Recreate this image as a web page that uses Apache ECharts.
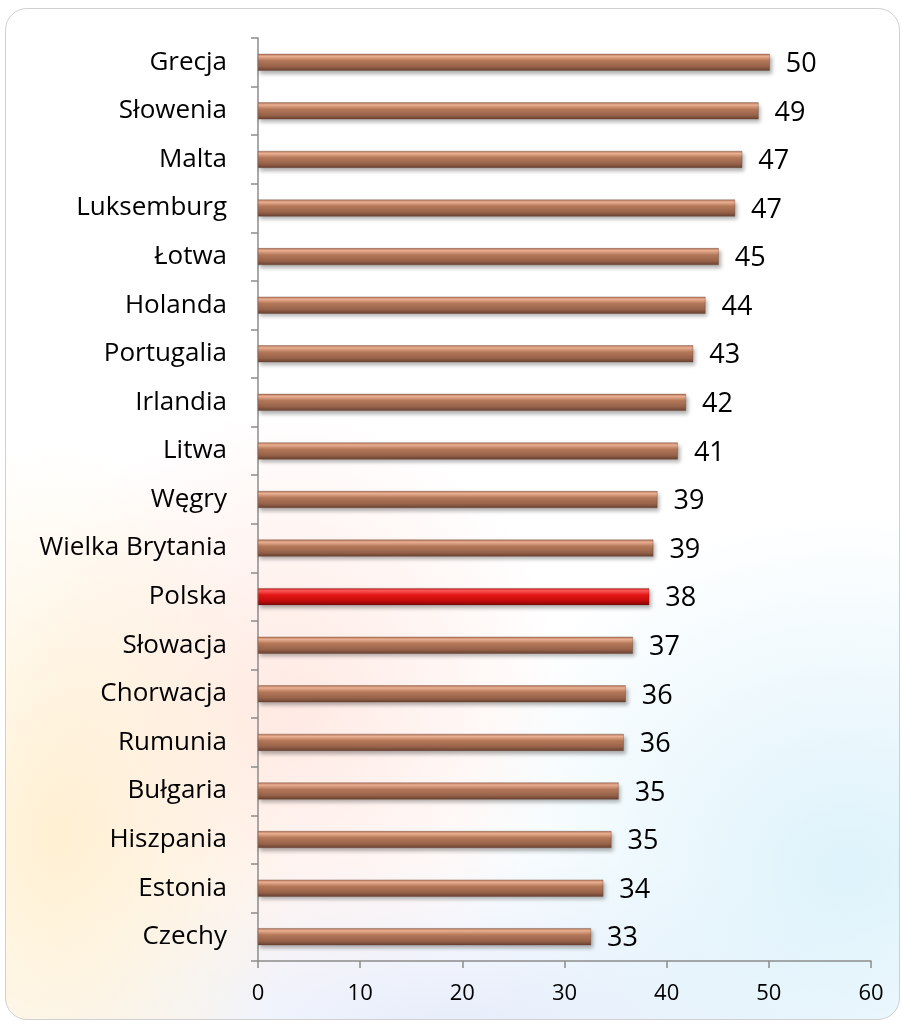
<!DOCTYPE html>
<html>
<head>
<meta charset="utf-8">
<script src="https://cdn.jsdelivr.net/npm/echarts@6/dist/echarts.min.js"></script>
<style>
  html, body { margin: 0; padding: 0; background: #fff; }
  #wrap {
    position: absolute; left: 5px; top: 8px; width: 893px; height: 1010px;
    border: 1.5px solid #d0d0d0; border-radius: 22px; overflow: hidden;
    background:
      radial-gradient(ellipse 240px 400px at 50px 830px, rgba(255,238,205,0.9), rgba(255,238,205,0) 100%),
      radial-gradient(ellipse 280px 300px at 280px 700px, rgba(255,218,208,0.6), rgba(255,218,208,0) 100%),
      radial-gradient(ellipse 400px 360px at 840px 860px, rgba(215,240,250,0.85), rgba(215,240,250,0) 100%),
      radial-gradient(ellipse 500px 180px at 450px 1020px, rgba(228,234,250,0.9), rgba(228,234,250,0) 100%),
      #ffffff;
  }
  #chart { position: absolute; left: 0; top: 0; width: 903px; height: 1024px; }
</style>
</head>
<body>
<div id="wrap"></div>
<div id="chart"></div>
<script>
// kraje od góry do dołu
var countries = ['Grecja', 'Słowenia', 'Malta', 'Luksemburg', 'Łotwa', 'Holanda', 'Portugalia',
  'Irlandia', 'Litwa', 'Węgry', 'Wielka Brytania', 'Polska', 'Słowacja', 'Chorwacja',
  'Rumunia', 'Bułgaria', 'Hiszpania', 'Estonia', 'Czechy']
var values = [50.1, 49.0, 47.4, 46.7, 45.1, 43.8, 42.6, 41.9, 41.1, 39.1, 38.7, 38.3, 36.7,
  36.0, 35.8, 35.3, 34.6, 33.8, 32.6]
var highlight = 'Polska'
var xTicks = [0, 10, 20, 30, 40, 50, 60]

var FONT = '"Open Sans", "Noto Sans", sans-serif'

function barColor(red) {
  var stops = red
    ? ['#c81818', '#ff5a5a', '#e41616', '#c40c0c', '#7e0606']
    : ['#ad7156', '#eeb294', '#b47859', '#98634a', '#684131']
  return new echarts.graphic.LinearGradient(0, 0, 0, 1, [
    { offset: 0, color: stops[0] },
    { offset: 0.15, color: stops[1] },
    { offset: 0.4, color: stops[2] },
    { offset: 0.75, color: stops[3] },
    { offset: 1, color: stops[4] }
  ])
}

// odwrócone, bo oś kategorii rysuje od dołu
var cats = countries.slice().reverse()
var data = values.slice().reverse().map(function (v, i) {
  return {
    value: v,
    itemStyle: { color: barColor(cats[i] === highlight) }
  }
})

var chart = echarts.init(document.getElementById('chart'), null, { renderer: 'canvas' })
chart.setOption({
  backgroundColor: 'transparent',
  animation: false,
  grid: { left: 258, right: 32, top: 38, bottom: 63, containLabel: false },
  xAxis: {
    type: 'value',
    min: xTicks[0],
    max: xTicks[xTicks.length - 1],
    interval: 10,
    axisLine: { show: true, lineStyle: { color: '#8c8c8c', width: 1.5 } },
    axisTick: { show: true, length: 7, lineStyle: { color: '#8c8c8c', width: 1.5 } },
    splitLine: { show: false },
    axisLabel: { color: '#000', fontSize: 22, fontFamily: FONT, margin: 22 }
  },
  yAxis: {
    type: 'category',
    data: cats,
    axisLine: { show: true, lineStyle: { color: '#8c8c8c', width: 1.5 } },
    axisTick: { show: true, length: 7, alignWithLabel: false, lineStyle: { color: '#8c8c8c', width: 1.5 } },
    axisLabel: { color: '#000', fontSize: 26, fontFamily: FONT, margin: 31 }
  },
  series: [{
    type: 'bar',
    data: data,
    barWidth: 17,
    itemStyle: {
      borderColor: 'rgba(90,50,35,0.6)',
      borderWidth: 0.5,
      shadowColor: 'rgba(0,0,0,0.3)',
      shadowBlur: 4,
      shadowOffsetX: 2,
      shadowOffsetY: 3
    },
    label: {
      show: true,
      position: 'right',
      distance: 16,
      offset: [0, 2],
      color: '#000',
      fontSize: 27,
      fontFamily: FONT,
      formatter: function (p) { return Math.round(p.value) }
    }
  }]
})
</script>
</body>
</html>
